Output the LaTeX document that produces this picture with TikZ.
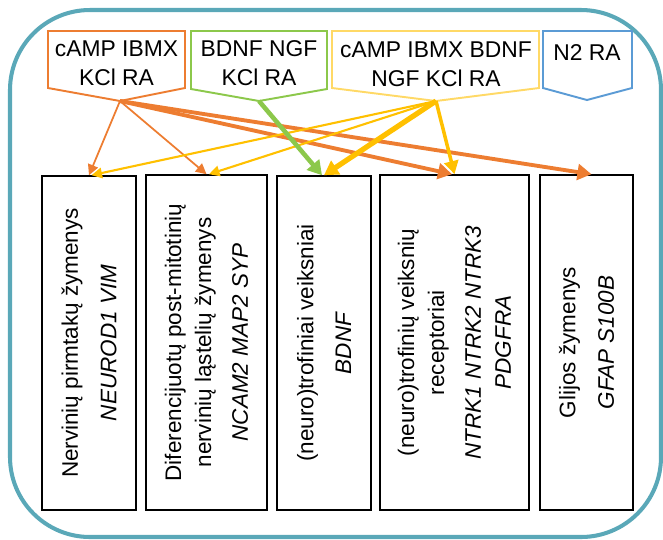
\documentclass[tikz,border=0pt]{standalone}
\usepackage{fontspec}
\setmainfont{Liberation Sans}
\usetikzlibrary{arrows.meta,fit}
\definecolor{shellteal}{HTML}{5AA8B8}
\definecolor{tagorange}{HTML}{ED7D31}
\definecolor{taggreen}{HTML}{8CC84B}
\definecolor{tagyellow}{HTML}{FFD966}
\definecolor{arryellow}{HTML}{FFC000}
\definecolor{tagblue}{HTML}{5B9BD5}
\tikzset{
  tag/.style={line width=1.1pt, line join=miter},
  tagtext/.style={align=center, inner sep=0pt, font=\fontsize{13}{16.4}\selectfont},
  box/.style={draw=black, line width=0.9pt, inner sep=0pt},
  boxtext/.style={rotate=90, align=center, inner sep=0pt, font=\fontsize{12.8}{17}\selectfont},
  thinarr/.style={line width=1pt, -{Triangle[length=6pt,width=6pt]}},
  midarr/.style={line width=2pt, -{Triangle[length=7.5pt,width=8pt]}},
  thickarr/.style={line width=2.6pt, -{Triangle[length=8pt,width=9pt]}}
}

\begin{document}
\begin{tikzpicture}[x=0.02cm, y=-0.02cm]
			\useasboundingbox (0,0) rectangle (663,539);
			
			% outer frame
			\draw[shellteal, line width=2.3pt, rounded corners=1.6cm] (10,10) rectangle (661,537);
			
			% treatment tags
			\coordinate (srcA) at (120,101);
			\coordinate (srcB) at (259,101);
			\coordinate (srcC) at (436,101);
			\coordinate (srcD) at (587,100);
			\draw[tag, tagorange] (48,31) -- (185,31) -- (185,88) -- (srcA) -- (48,88) -- cycle;
			\draw[tag, taggreen] (191,31) -- (327,31) -- (327,89) -- (srcB) -- (191,89) -- cycle;
			\draw[tag, tagyellow] (332,31) -- (539,31) -- (539,88) -- (srcC) -- (332,88) -- cycle;
			\draw[tag, tagblue] (543,31) -- (632,31) -- (632,88) -- (srcD) -- (543,88) -- cycle;
			\node[tagtext] (tagA) at (116.5,63) {cAMP IBMX\\KCl RA};
			\node[tagtext] (tagB) at (259,63) {BDNF NGF\\KCl RA};
			\node[tagtext] (tagC) at (436,64) {cAMP IBMX BDNF\\NGF KCl RA};
			\node[tagtext] (tagD) at (587,53) {N2 RA};
			
			% marker groups
			\node[box, fit={(42,176) (136,510)}] (b1) {};
			\node[box, fit={(146,175) (267,510)}] (b2) {};
			\node[box, fit={(277,176) (371,510)}] (b3) {};
			\node[box, fit={(380,175) (529,510)}] (b4) {};
			\node[box, fit={(540,175) (633,510)}] (b5) {};
			\node[boxtext] (t1) at (b1.center) {Nervinių pirmtakų žymenys\\[5pt]\textit{NEUROD1 VIM}};
			\node[boxtext] (t2) at (b2.center) {Diferencijuotų post-mitotinių\\nervinių ląstelių žymenys\\[4pt]\textit{NCAM2 MAP2 SYP}};
			\node[boxtext] (t3) at (b3.center) {(neuro)trofiniai veiksniai\\[4.5pt]\textit{BDNF}};
			\node[boxtext] (t4) at (b4.center) {(neuro)trofinių veiksnių\\receptoriai\\[4pt]\textit{NTRK1 NTRK2 NTRK3}\\\textit{PDGFRA}};
			\node[boxtext] (t5) at (b5.center) {Glijos žymenys\\[5pt]\textit{GFAP S100B}};
			
			% arrows
			\draw[thinarr, tagorange] (srcA) -- (b1.north);
			\draw[thinarr, tagorange] (srcA) -- (b2.north);
			\draw[thickarr, tagorange, line width=2.2pt] (srcA) -- ([xshift=-0.05cm]b4.north);
			\draw[thickarr, tagorange, line width=2.2pt] (srcA) -- ([xshift=0.1cm]b5.north);
			\draw[thinarr, arryellow, line width=1.2pt] (srcC) -- ([xshift=0.05cm]b1.north);
			\draw[thinarr, arryellow, line width=1.2pt] (srcC) -- ([xshift=0.05cm]b2.north);
			\draw[thickarr, arryellow, line width=3pt] (srcC) -- (b3.north);
			\draw[midarr, arryellow] (srcC) -- (b4.north);
			\draw[thickarr, taggreen] (srcB) -- ([xshift=-0.04cm]b3.north);
			
		\end{tikzpicture}
\end{document}
